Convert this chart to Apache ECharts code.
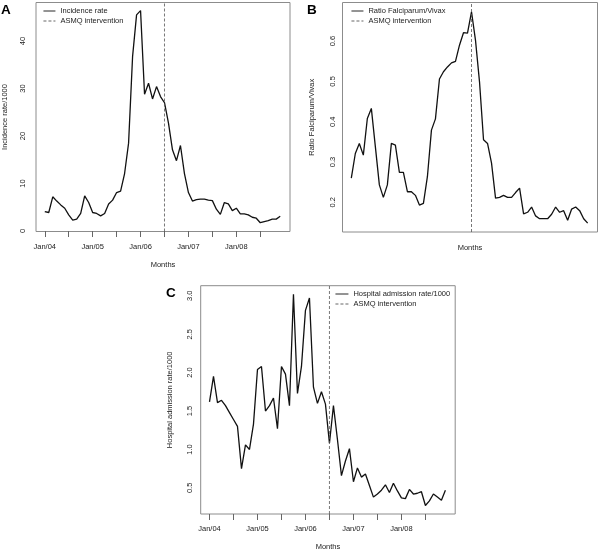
<!DOCTYPE html>
<html>
<head>
<meta charset="utf-8">
<script src="https://cdn.jsdelivr.net/npm/echarts@6/dist/echarts.min.js"></script>
<style>
  html, body { margin: 0; padding: 0; background: #fff; }
  #chart { width: 600px; height: 552px; }
</style>
</head>
<body>
<div id="chart"></div>
<script>
// monthly values Jan/04 .. Dec/08 (60 months)
const incidence = [
  4.1, 3.9, 7.2, 6.3, 5.5, 4.8, 3.4, 2.3, 2.5, 3.7, 7.4, 6.0,
  3.9, 3.7, 3.2, 3.7, 5.7, 6.5, 8.1, 8.4, 12.1, 18.5, 36.7, 45.5,
  46.4, 28.8, 31.1, 27.8, 30.4, 28.3, 27.0, 22.7, 17.1, 14.8, 18.0, 12.1,
  8.1, 6.3, 6.6, 6.7, 6.7, 6.5, 6.4, 4.6, 3.5, 6.0, 5.7, 4.3,
  4.8, 3.6, 3.6, 3.4, 2.9, 2.7, 1.75, 2.0, 2.2, 2.5, 2.5, 3.1
];
const ratioFV = [
  0.260, 0.321, 0.346, 0.317, 0.408, 0.433, 0.338, 0.243, 0.212, 0.243, 0.346, 0.342,
  0.274, 0.274, 0.226, 0.226, 0.217, 0.193, 0.197, 0.264, 0.379, 0.407, 0.506, 0.524,
  0.536, 0.546, 0.550, 0.590, 0.621, 0.620, 0.673, 0.602, 0.499, 0.355, 0.346, 0.297,
  0.210, 0.212, 0.217, 0.212, 0.212, 0.224, 0.235, 0.171, 0.175, 0.188, 0.166, 0.159,
  0.159, 0.159, 0.170, 0.188, 0.175, 0.179, 0.155, 0.183, 0.188, 0.179, 0.159, 0.148
];
const admission = [
  1.62, 1.95, 1.61, 1.64, 1.57, 1.48, 1.39, 1.30, 0.75, 1.06, 1.00, 1.33,
  2.04, 2.08, 1.50, 1.57, 1.67, 1.27, 2.08, 1.98, 1.57, 3.02, 1.73, 2.08,
  2.81, 2.97, 1.81, 1.60, 1.75, 1.59, 1.08, 1.57, 1.13, 0.66, 0.85, 1.01,
  0.58, 0.76, 0.64, 0.68, 0.53, 0.38, 0.42, 0.47, 0.54, 0.44, 0.56, 0.46,
  0.37, 0.36, 0.48, 0.42, 0.43, 0.45, 0.27, 0.33, 0.42, 0.38, 0.34, 0.47
];
const xTickMonths = [0, 6, 12, 18, 24, 30, 36, 42, 48, 54];
const xLabelMonths = [0, 12, 24, 36, 48];
const xLabels = ['Jan/04', 'Jan/05', 'Jan/06', 'Jan/07', 'Jan/08'];
const interventionMonth = 30;   // Jul/06
const yTicksA = [0, 10, 20, 30, 40];
const yTicksB = [0.2, 0.3, 0.4, 0.5, 0.6];
const yTicksC = [0.5, 1.0, 1.5, 2.0, 2.5, 3.0];

const FONT = '"Liberation Sans", Arial, Helvetica, sans-serif';
const chart = echarts.init(document.getElementById('chart'));

const xRange = { min: -2.2, max: 61.45 };
const yRanges = [
  { min: -0.1, max: 48.1 },
  { min: 0.126, max: 0.696 },
  { min: 0.160, max: 3.131 }
];

function xAxis(gridIndex, withTicks, nameGap) {
  return {
    type: 'value', gridIndex: gridIndex, min: xRange.min, max: xRange.max,
    name: 'Months', nameLocation: 'middle', nameGap: nameGap,
    nameTextStyle: { fontFamily: FONT, fontSize: 7.5, color: '#222' },
    axisLine: { show: false },
    splitLine: { show: false },
    axisTick: {
      show: withTicks, customValues: xTickMonths, length: 6, inside: false,
      lineStyle: { color: '#666', width: 1 }
    },
    axisLabel: {
      show: withTicks, customValues: xLabelMonths, margin: 11,
      fontFamily: FONT, fontSize: 7.5, color: '#222',
      formatter: v => xLabels[xLabelMonths.indexOf(Math.round(v))] || ''
    }
  };
}
function yAxis(gridIndex, name, ticks, margin, fmt) {
  return {
    type: 'value', gridIndex: gridIndex,
    min: yRanges[gridIndex].min, max: yRanges[gridIndex].max,
    name: name, nameLocation: 'middle', nameGap: 27,
    nameTextStyle: { fontFamily: FONT, fontSize: 7.5, color: '#222' },
    axisLine: { show: false },
    splitLine: { show: false },
    axisTick: { show: false },
    axisLabel: {
      customValues: ticks, rotate: 90, margin: margin,
      fontFamily: FONT, fontSize: 7.5, color: '#222', formatter: fmt
    }
  };
}
function mainSeries(name, idx, values) {
  return {
    name: name, type: 'line', xAxisIndex: idx, yAxisIndex: idx,
    data: values.map((v, i) => [i, v]),
    symbol: 'none', silent: true, animation: false,
    itemStyle: { color: 'rgba(0,0,0,0)' },
    lineStyle: { color: '#111', width: 1.3 }
  };
}
function asmqSeries(idx) {
  const r = yRanges[idx];
  return {
    name: 'ASMQ intervention', type: 'line', xAxisIndex: idx, yAxisIndex: idx,
    data: [[interventionMonth, r.min], [interventionMonth, r.max]],
    symbol: 'none', silent: true, animation: false,
    itemStyle: { color: 'rgba(0,0,0,0)' },
    lineStyle: { color: '#555', width: 0.8, type: [3, 2] }
  };
}
function legend(left, top, first, w) {
  return {
    orient: 'vertical', left: left, top: top, padding: 0,
    data: [first, 'ASMQ intervention'],
    itemWidth: w, itemHeight: 8, itemGap: 2,
    selectedMode: false,
    lineStyle: { width: 0.9 },
    textStyle: { fontFamily: FONT, fontSize: 7.5, color: '#222', lineHeight: 8 }
  };
}
const panelTitle = (text, left, top) => ({
  text: text, left: left, top: top, padding: 0,
  textStyle: { fontFamily: FONT, fontSize: 13.5, fontWeight: 'bold', color: '#000' }
});
const box = (left, top, width, height) => ({
  left: left, top: top, width: width, height: height, show: true,
  borderColor: '#8c8c8c', borderWidth: 1, backgroundColor: 'transparent'
});

chart.setOption({
  animation: false,
  title: [panelTitle('A', 1, 3), panelTitle('B', 307, 3), panelTitle('C', 166, 286)],
  grid: [
    box(35.5, 2.5, 254.5, 229),
    box(342.5, 2.5, 255, 229.5),
    box(200.7, 285.7, 254.5, 228.8)
  ],
  xAxis: [xAxis(0, true, 29), xAxis(1, false, 12), xAxis(2, true, 29)],
  yAxis: [
    yAxis(0, 'Incidence rate/1000', yTicksA, 9, v => String(v)),
    yAxis(1, 'Ratio Falciparum/Vivax', yTicksB, 6, v => v.toFixed(1)),
    yAxis(2, 'Hospital admission rate/1000', yTicksC, 7, v => v.toFixed(1))
  ],
  legend: [
    legend(43, 7, 'Incidence rate', 12),
    legend(351, 7, 'Ratio Falciparum/Vivax', 12),
    legend(335, 290, 'Hospital admission rate/1000', 13)
  ],
  series: [
    mainSeries('Incidence rate', 0, incidence), asmqSeries(0),
    mainSeries('Ratio Falciparum/Vivax', 1, ratioFV), asmqSeries(1),
    mainSeries('Hospital admission rate/1000', 2, admission), asmqSeries(2)
  ]
});
</script>
</body>
</html>
